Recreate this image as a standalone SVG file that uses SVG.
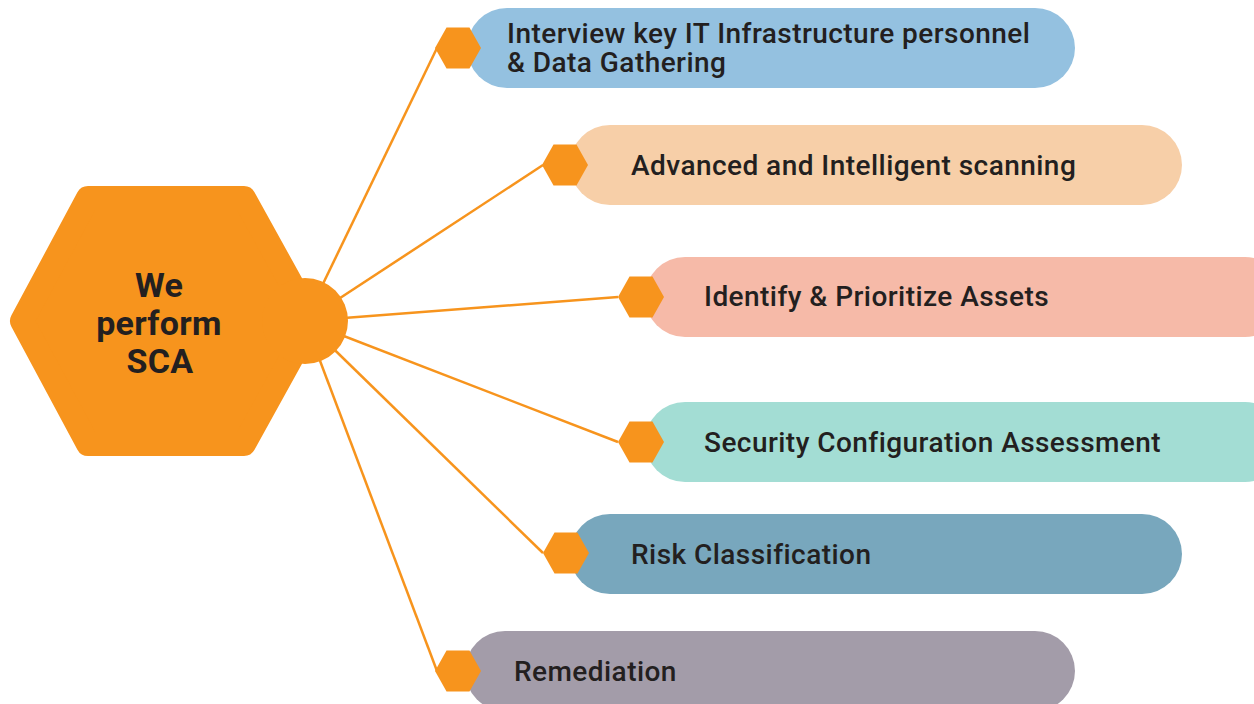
<svg xmlns="http://www.w3.org/2000/svg" width="1254" height="704" viewBox="0 0 1254 704">
<defs>
<style>
.conn{stroke:#f7941d;stroke-width:2.5;fill:none}
.hex{fill:#f7941d}
.lbl{font-family:Roboto,"Liberation Sans",sans-serif;font-weight:500;font-size:28px;letter-spacing:0.45px;fill:#231f20}
.ctr{font-family:Roboto,"Liberation Sans",sans-serif;font-weight:700;font-size:34px;letter-spacing:0.3px;fill:#231f20;text-anchor:middle}
</style>
<polygon id="shex" points="-23,0 -11.5,-20.5 11.5,-20.5 23,0 11.5,20.5 -11.5,20.5"/>
</defs>
<rect width="1254" height="704" fill="#ffffff"/>
<g id="connectors">
<line class="conn" x1="305" y1="321" x2="437" y2="48"/>
<line class="conn" x1="305" y1="321" x2="543" y2="165"/>
<line class="conn" x1="305" y1="321" x2="618" y2="297"/>
<line class="conn" x1="305" y1="321" x2="618" y2="442"/>
<line class="conn" x1="305" y1="321" x2="543" y2="553"/>
<line class="conn" x1="305" y1="321" x2="437" y2="671"/>
</g>
<g id="center">
<polygon points="22,321 88,198 244,198 312,321 244,444 88,444" fill="#f7941d" stroke="#f7941d" stroke-width="24" stroke-linejoin="round"/>
<circle cx="305" cy="321" r="43" fill="#f7941d"/>
<text class="ctr"><tspan x="159" y="297">We</tspan><tspan x="159" y="335">perform</tspan><tspan x="160" y="373">SCA</tspan></text>
</g>
<g id="step1">
<rect x="467" y="8" width="608" height="80" rx="40" fill="#94c1e0"/>
<use href="#shex" x="458" y="48" class="hex"/>
<text class="lbl"><tspan x="507" y="43">Interview key IT Infrastructure personnel</tspan><tspan x="507" y="72">&amp; Data Gathering</tspan></text>
</g>
<g id="step2">
<rect x="570" y="125" width="612" height="80" rx="40" fill="#f7cfa8"/>
<use href="#shex" x="565" y="165" class="hex"/>
<text class="lbl" x="631" y="175">Advanced and Intelligent scanning</text>
</g>
<g id="step3">
<rect x="645" y="257" width="640" height="80" rx="40" fill="#f6baa8"/>
<use href="#shex" x="641" y="297" class="hex"/>
<text class="lbl" x="704" y="306">Identify &amp; Prioritize Assets</text>
</g>
<g id="step4">
<rect x="645" y="402" width="640" height="80" rx="40" fill="#a3ddd4"/>
<use href="#shex" x="641" y="442" class="hex"/>
<text class="lbl" x="704" y="452">Security Configuration Assessment</text>
</g>
<g id="step5">
<rect x="570" y="514" width="612" height="80" rx="40" fill="#78a7bd"/>
<use href="#shex" x="566" y="553" class="hex"/>
<text class="lbl" x="631" y="564">Risk Classification</text>
</g>
<g id="step6">
<rect x="465" y="631" width="610" height="80" rx="40" fill="#a39ca9"/>
<use href="#shex" x="458" y="671" class="hex"/>
<text class="lbl" x="514" y="681">Remediation</text>
</g>
</svg>
